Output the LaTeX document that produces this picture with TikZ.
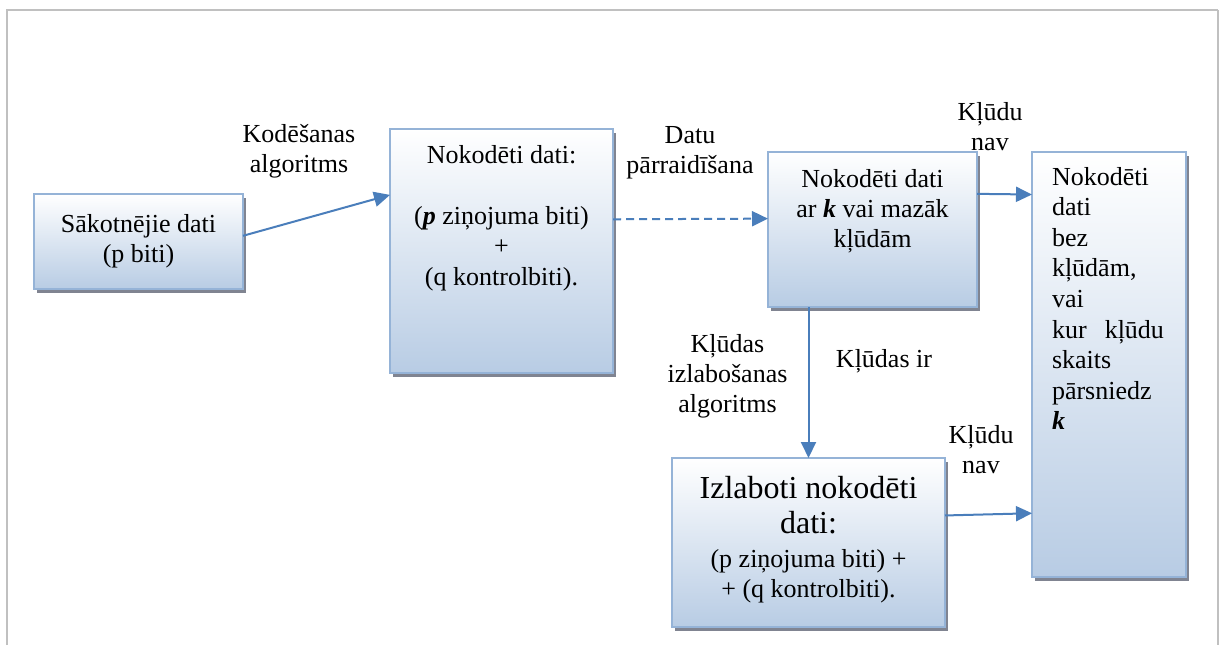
\documentclass[tikz,border=0pt]{standalone}
\usepackage{fontspec}
\setmainfont{Liberation Serif}
\usetikzlibrary{arrows.meta,shadows,calc}
\definecolor{boxedge}{RGB}{149,179,215}
\definecolor{boxbot}{RGB}{184,204,228}
\definecolor{arrowblue}{RGB}{74,126,187}
\definecolor{framegray}{RGB}{192,192,192}
\definecolor{shadowgray}{RGB}{128,132,145}
\begin{document}
\begin{tikzpicture}[x=1pt,y=-1pt,
  box/.style={draw=boxedge, line width=2.5pt, top color=white, bottom color=boxbot,
    inner sep=0pt, outer sep=0pt,
    general shadow={fill=shadowgray, shadow xshift=3pt, shadow yshift=-4pt}},
  conn/.style={draw=arrowblue, line width=2pt, -{Triangle[length=16pt,width=15pt]}},
  lbl/.style={align=center, inner sep=0pt, font=\fontsize{26}{30}\selectfont},
  frameline/.style={draw=framegray, line width=2pt}]
\useasboundingbox (0,0) rectangle (1220,645);
% frame
\coordinate (fbl) at (7,645);
\coordinate (ftl) at (7,10);
\coordinate (ftr) at (1218,10);
\coordinate (fbr) at (1218,645);
\draw[frameline] (fbl) -- (ftl) -- (ftr);
\draw[frameline, line width=1.5pt] (ftr) -- (fbr);
% boxes
\node[box, minimum width=209pt, minimum height=95pt, align=center,
  font=\fontsize{26}{30}\selectfont] (b1) at (138.5,241.5) {Sākotnējie dati\\(p biti)};
\node[box] (b2) at (501.5,251) {\parbox[c][244pt][t]{223pt}{\centering\fontsize{26}{30.5}\selectfont
  \rule{0pt}{34pt}Nokodēti dati:\\[30.5pt]
  (\textbf{\textit{p}} ziņojuma biti)\\
  +\\
  (q kontrolbiti).\par}};
\node[box] (b3) at (872.5,229.5) {\parbox[c][155pt][t]{209pt}{\centering\fontsize{26}{30}\selectfont
  \rule{0pt}{35pt}Nokodēti dati\\
  ar \textbf{\textit{k}} vai mazāk\\
  kļūdām\par}};
\node[box] (b4) at (1109,364.5) {\parbox[c][425pt][t]{154pt}{\raggedright\leftskip=20pt\fontsize{26}{30.6}\selectfont
  \rule{0pt}{33pt}Nokodēti\\
  dati\\
  bez\\
  kļūdām,\\
  vai\\
  \makebox[112pt][s]{kur kļūdu}\\
  skaits\\
  pārsniedz\\
  \textbf{\textit{k}}\par}};
\node[box] (b5) at (808.5,542.5) {\parbox[c][169pt][t]{273pt}{\centering\fontsize{32}{35}\selectfont
  \rule{0pt}{40pt}Izlaboti nokodēti\\
  dati:\par\vspace{4pt}
  \fontsize{26}{30}\selectfont
  (p ziņojuma biti) +\\
  + (q kontrolbiti).\par}};
% labels (base = baseline of last line)
\node[lbl, anchor=base] (l1) at (299,172) {Kodēšanas\\algoritms};
\node[lbl, anchor=base] (l2) at (690,173) {Datu\\pārraidīšana};
\node[lbl, anchor=base] (l3) at (990,150) {Kļūdu\\nav};
\node[lbl, anchor=base] (l4) at (727.5,412) {Kļūdas\\izlabošanas\\algoritms};
\node[lbl, anchor=base] (l5) at (884,367) {Kļūdas ir};
\node[lbl, anchor=base] (l6) at (981,473) {Kļūdu\\nav};
% connectors
\draw[conn] ($(b1.north east)!0.44!(b1.south east)$) -- ($(b2.north west)!0.27!(b2.south west)$);
\draw[conn, dash pattern=on 8pt off 5pt] ($(b2.north east)!0.37!(b2.south east)$) -- ($(b3.north west)!0.43!(b3.south west)$);
\draw[conn] ($(b3.north east)!0.27!(b3.south east)$) -- ($(b4.north west)!0.1!(b4.south west)$);
\draw[conn] (b3.south -| b5.north) -- (b5.north);
\draw[conn] ($(b5.north east)!0.34!(b5.south east)$) -- ($(b4.north west)!0.85!(b4.south west)$);
\end{tikzpicture}
\end{document}
